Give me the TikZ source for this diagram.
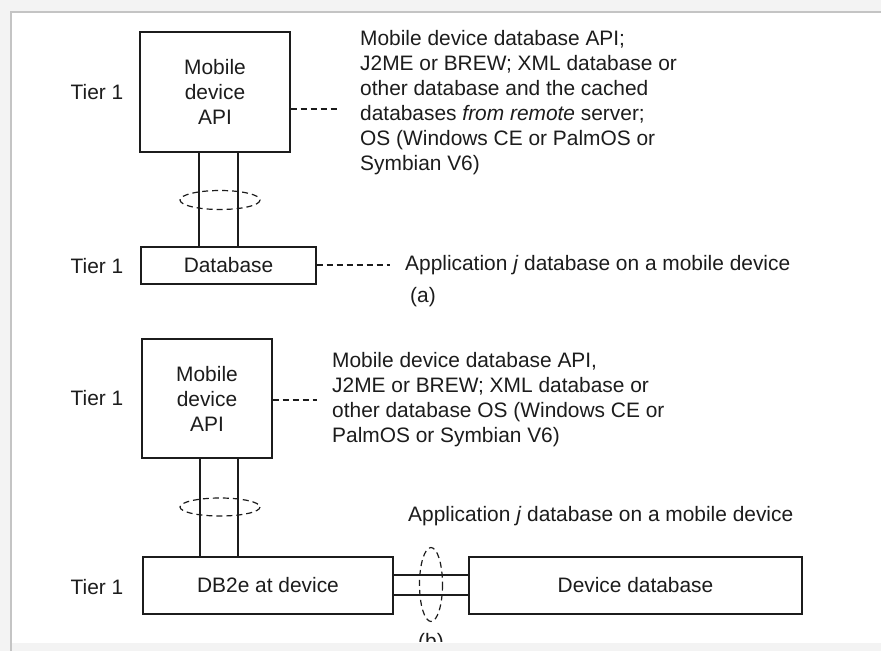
\documentclass[tikz,border=0pt]{standalone}
\usepackage{fontspec}
\setmainfont{Liberation Sans}
\definecolor{ink}{HTML}{1C1C1C}
\definecolor{outer}{HTML}{F3F3F3}
\definecolor{framec}{HTML}{C4C4C4}
\begin{document}
\begin{tikzpicture}[x=1pt,y=-1pt,
  every node/.style={font=\fontsize{20.9}{25}\selectfont, text=ink},
  box/.style={draw=ink, line width=1.4pt, inner sep=0pt, align=center},
  desc/.style={align=left, inner sep=0pt, anchor=north west},
  tier/.style={inner sep=0pt},
  lead/.style={draw=ink, line width=1.2pt, dash pattern=on 6pt off 4pt},
  link/.style={draw=ink, line width=1.4pt},
  ring/.style={draw=ink, line width=1.2pt, dash pattern=on 6pt off 4pt}]
\useasboundingbox (0,0) rectangle (881,651);
% page background and frame
\fill[outer] (0,0) rectangle (881,651);
\fill[white] (12,13) rectangle (881,643);
\draw[framec, line width=1.6pt] (11,651) -- (11,12) -- (881,12);

% ---------- (a) ----------
\node[tier] (tier1) at (97,92) {Tier 1};
\node[box, minimum width=150pt, minimum height=120pt] (api1) at (215,92) {Mobile\\device\\API};
\node[tier] (tier2) at (97,266) {Tier 1};
\node[box, minimum width=175pt, minimum height=37pt] (db1) at (228.5,265.5) {Database};

\coordinate (xa1) at (199,0);
\coordinate (xb1) at (238,0);
\draw[link] (api1.south -| xa1) -- (db1.north -| xa1);
\draw[link] (api1.south -| xb1) -- (db1.north -| xb1);
\draw[ring] (220,200) ellipse [x radius=40, y radius=9.5];

\node[desc] (t1) at (360,30) {Mobile device database API;\\J2ME or BREW; XML database or\\other database and the cached\\databases \textit{from remote} server;\\OS (Windows CE or PalmOS or\\Symbian V6)};
\coordinate (e1) at (337,109);
\draw[lead] (api1.east |- e1) -- (e1);

\node[anchor=west, inner sep=0pt] (app1) at (405,265) {Application \textit{j} database on a mobile device};
\coordinate (e2) at (390,265);
\draw[lead] (db1.east |- e2) -- (e2);
\node[inner sep=0pt] (cap1) at (423,297) {(a)};

% ---------- (b) ----------
\node[tier] (tier3) at (97,398) {Tier 1};
\node[box, minimum width=130pt, minimum height=119pt] (api2) at (207,398.5) {Mobile\\device\\API};
\node[tier] (tier4) at (97,587) {Tier 1};
\node[box, minimum width=250pt, minimum height=57pt] (db2) at (268,585.5) {DB2e at device};
\node[box, minimum width=333pt, minimum height=57pt] (dev) at (635.5,585.5) {Device database};

\coordinate (xa2) at (200,0);
\coordinate (xb2) at (238,0);
\draw[link] (api2.south -| xa2) -- (db2.north -| xa2);
\draw[link] (api2.south -| xb2) -- (db2.north -| xb2);
\draw[ring] (220,507) ellipse [x radius=40, y radius=9];

\coordinate (ya) at (0,575);
\coordinate (yb) at (0,595);
\draw[link] (db2.east |- ya) -- (dev.west |- ya);
\draw[link] (db2.east |- yb) -- (dev.west |- yb);
\draw[ring] (431,584.5) ellipse [x radius=11.5, y radius=37];

\node[desc] (t2) at (332,352) {Mobile device database API,\\J2ME or BREW; XML database or\\other database OS (Windows CE or\\PalmOS or Symbian V6)};
\coordinate (e3) at (317,400);
\draw[lead] (api2.east |- e3) -- (e3);

\node[anchor=west, inner sep=0pt] (app2) at (408,516) {Application \textit{j} database on a mobile device};

\begin{scope}
\clip (0,0) rectangle (881,641);
\node[inner sep=0pt] (cap2) at (431,643) {(b)};
\end{scope}
\end{tikzpicture}
\end{document}
